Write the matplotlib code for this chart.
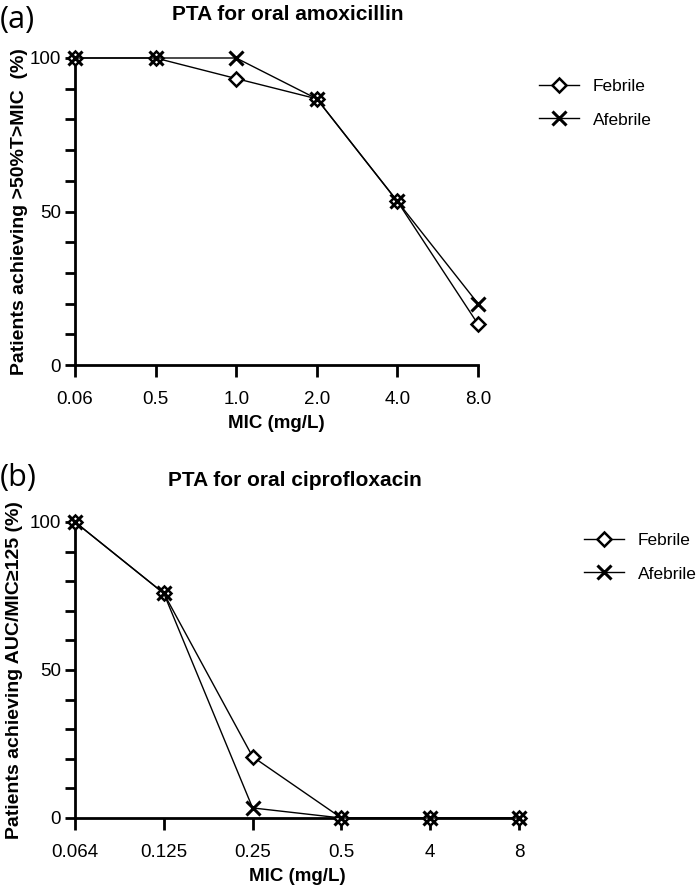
import matplotlib
matplotlib.use("Agg")
import matplotlib.pyplot as plt
from matplotlib.ticker import MultipleLocator

plt.rcParams['font.family'] = ['Liberation Sans', 'DejaVu Sans']

# ---- data ----
mic_a = ["0.06", "0.5", "1.0", "2.0", "4.0", "8.0"]
febrile_a = [100, 100, 93.3, 86.7, 53.3, 13.3]
afebrile_a = [100, 100, 100, 86.7, 53.3, 20.0]

mic_b = ["0.064", "0.125", "0.25", "0.5", "4", "8"]
febrile_b = [100, 75.9, 20.7, 0, 0, 0]
afebrile_b = [100, 75.9, 3.4, 0, 0, 0]

W, H = 700, 889
fig = plt.figure(figsize=(W / 100, H / 100), dpi=100)


def fx(px):
    return px / W


def fy(py):
    return 1 - py / H


def panel(rect, labels, feb, afeb, ylabel, leg_anchor, ylab_x):
    ax = fig.add_axes(rect)
    x = list(range(len(labels)))
    ax.plot(x, feb, color='black', lw=1.0, marker='D', ms=7.5, mfc='white',
            mec='black', mew=1.8, label='Febrile', clip_on=False, zorder=3)
    ax.plot(x, afeb, color='black', lw=1.0, marker='x', ms=10, mec='black',
            mew=2.2, label='Afebrile', clip_on=False, zorder=4)
    ax.set_xlim(0, len(labels) - 1)
    ax.set_ylim(0, 100)
    ax.set_xticks(x)
    ax.set_xticklabels(labels)
    ax.set_yticks([0, 50, 100])
    ax.yaxis.set_minor_locator(MultipleLocator(10))
    for s in ['top', 'right']:
        ax.spines[s].set_visible(False)
    for s in ['left', 'bottom']:
        ax.spines[s].set_linewidth(2.0)
    ax.tick_params(axis='y', which='major', length=7, width=2.0,
                   labelsize=13.5, pad=3, direction='out')
    ax.tick_params(axis='y', which='minor', length=7, width=2.0, direction='out')
    ax.tick_params(axis='x', which='major', length=8.5, width=2.0,
                   labelsize=13.5, pad=10, direction='out')
    ax.set_xlabel('MIC (mg/L)', fontsize=13.5, fontweight='bold', labelpad=5)
    ax.set_ylabel(ylabel, fontsize=14, fontweight='bold')
    ax.yaxis.set_label_coords(ylab_x, 0.5)
    ax.legend(loc='upper left', bbox_to_anchor=leg_anchor,
              bbox_transform=fig.transFigure, frameon=False, fontsize=12.5,
              handlelength=2.3, handletextpad=0.8, labelspacing=1.05,
              borderpad=0, borderaxespad=0)
    return ax


ax_a = panel([fx(75), fy(365), fx(478 - 75), (365 - 58) / H],
             mic_a, febrile_a, afebrile_a,
             'Patients achieving >50%T>MIC  (%)', (fx(539), fy(79)),
             (28 - 75) / (478 - 75))
ax_b = panel([fx(75), fy(818), fx(519 - 75), (818 - 522) / H],
             mic_b, febrile_b, afebrile_b,
             'Patients achieving AUC/MIC\u2265125 (%)', (fx(584), fy(533)),
             (23 - 75) / (519 - 75))

fig.text(fx(0), fy(20), '(a)', fontsize=22, va='center', ha='left',
         family=['Open Sans', 'DejaVu Sans'])
fig.text(fx(288), fy(15), 'PTA for oral amoxicillin', fontsize=15,
         fontweight='bold', ha='center', va='center')
fig.text(fx(0), fy(478), '(b)', fontsize=22, va='center', ha='left',
         family=['Open Sans', 'DejaVu Sans'])
fig.text(fx(295), fy(481), 'PTA for oral ciprofloxacin', fontsize=15,
         fontweight='bold', ha='center', va='center')

fig.savefig('out.png', dpi=100)
